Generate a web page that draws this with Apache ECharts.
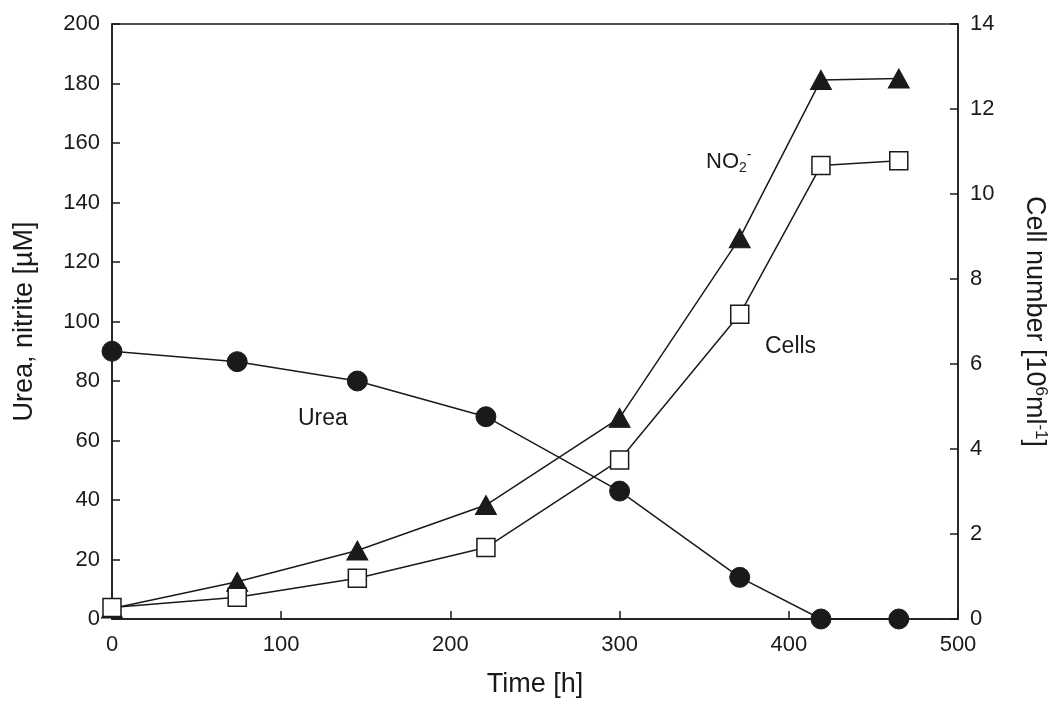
<!DOCTYPE html>
<html>
<head>
<meta charset="utf-8">
<script src="https://cdn.jsdelivr.net/npm/echarts@6/dist/echarts.min.js"></script>
<style>
  html, body { margin: 0; padding: 0; background: #fff; }
  #chart { width: 1057px; height: 712px; }
</style>
</head>
<body>
<div id="chart"></div>
<script>
// 时间点 (h)
const hours = [0, 74, 145, 221, 300, 371, 419, 465];
// 尿素 µM (左轴)
const urea = [90, 86.5, 80, 68, 43, 14, 0, 0];
// 亚硝酸盐 µM (左轴)
const nitrite = [3.5, 12.5, 23, 38.3, 67.6, 128, 181.2, 181.7];
// 细胞数 10^6/ml (右轴)
const cells = [0.27, 0.51, 0.96, 1.68, 3.74, 7.17, 10.67, 10.78];

const xTicks = [0, 100, 200, 300, 400, 500];

const ink = "#1a1a1a";
const font = "Liberation Sans, Arial, sans-serif";

function pairs(ys) {
    return hours.map((h, i) => [h, ys[i]]);
}

const chart = echarts.init(document.getElementById("chart"));

const axisCommon = {
    axisLine: { show: true, lineStyle: { color: ink, width: 1.5 } },
    axisTick: { show: true, inside: true, length: 8, lineStyle: { color: ink, width: 1.5 } },
    splitLine: { show: false },
    axisLabel: { color: ink, fontSize: 22, fontFamily: font }
};

const nameStyle = { color: ink, fontSize: 27, fontFamily: font };

const option = {
    animation: false,
    grid: {
        left: 112, right: 98, top: 24, bottom: 93,
        show: true, borderColor: ink, borderWidth: 1.5, backgroundColor: "transparent"
    },
    xAxis: Object.assign({}, axisCommon, {
        type: "value",
        min: xTicks[0], max: xTicks[xTicks.length - 1], interval: 100,
        name: "Time [h]",
        nameLocation: "middle", nameGap: 52,
        nameTextStyle: nameStyle,
        axisLabel: Object.assign({}, axisCommon.axisLabel, { margin: 15 })
    }),
    yAxis: [
        Object.assign({}, axisCommon, {
            type: "value", min: 0, max: 200, interval: 20,
            name: "Urea, nitrite [\u00b5M]",
            nameLocation: "middle", nameGap: 74,
            nameTextStyle: nameStyle,
            axisLabel: Object.assign({}, axisCommon.axisLabel, { margin: 12 })
        }),
        Object.assign({}, axisCommon, {
            type: "value", min: 0, max: 14, interval: 2, position: "right",
            name: "{n|Cell number [10}{s|6}{n|ml}{s|-1}{n|]}",
            nameLocation: "middle", nameGap: 62, nameRotate: -90,
            nameTextStyle: {
                color: ink, fontFamily: font,
                rich: {
                    n: { fontSize: 27, color: ink, fontFamily: font },
                    s: { fontSize: 17, color: ink, fontFamily: font, verticalAlign: "top", padding: [0, 0, 12, 0] }
                }
            },
            axisLabel: Object.assign({}, axisCommon.axisLabel, { margin: 12 })
        })
    ],
    series: [
        {
            name: "Urea", type: "line", data: pairs(urea), yAxisIndex: 0,
            symbol: "circle", symbolSize: 20,
            lineStyle: { color: ink, width: 1.5 },
            itemStyle: { color: ink, borderColor: ink }, z: 3
        },
        {
            name: "NO2", type: "line", data: pairs(nitrite), yAxisIndex: 0,
            symbol: "triangle", symbolSize: [21, 19],
            lineStyle: { color: ink, width: 1.5 },
            itemStyle: { color: ink, borderColor: ink }, z: 3
        },
        {
            name: "Cells", type: "line", data: pairs(cells), yAxisIndex: 1,
            symbol: "rect", symbolSize: 18,
            lineStyle: { color: ink, width: 1.5 },
            itemStyle: { color: "#fff", borderColor: ink, borderWidth: 1.5 }, z: 4
        }
    ],
    graphic: [
        {
            type: "text", left: 298, top: 407,
            style: { text: "Urea", fontSize: 23, fontFamily: font, fill: ink }
        },
        {
            type: "text", left: 765, top: 335,
            style: { text: "Cells", fontSize: 23, fontFamily: font, fill: ink }
        },
        {
            type: "text", left: 706, top: 148,
            style: {
                text: "{n|NO}{b|2}{p|-}",
                fill: ink,
                rich: {
                    n: { fontSize: 22, fontFamily: font, fill: ink },
                    b: { fontSize: 14, fontFamily: font, fill: ink, verticalAlign: "bottom", padding: [13, 0, 0, 0] },
                    p: { fontSize: 14, fontFamily: font, fill: ink, verticalAlign: "top", padding: [0, 0, 11, 0] }
                }
            }
        }
    ]
};

chart.setOption(option);
</script>
</body>
</html>
